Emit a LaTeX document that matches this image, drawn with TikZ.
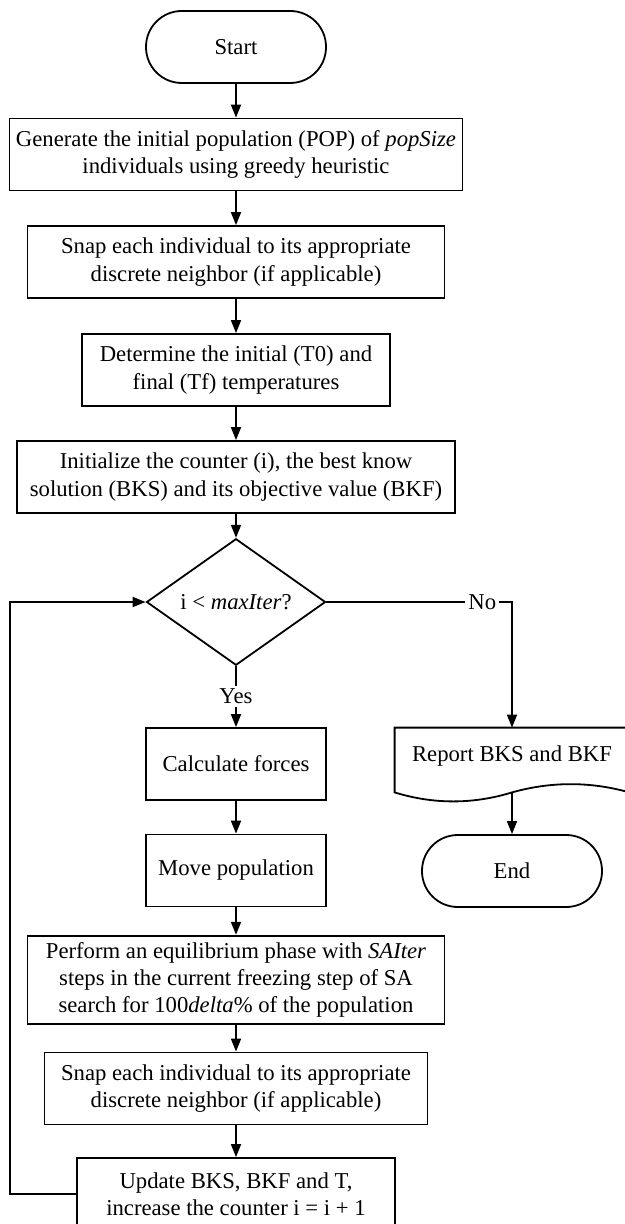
\documentclass[tikz,border=0pt]{standalone}
\usepackage{fontspec}
\setmainfont{Liberation Serif}
\usetikzlibrary{shapes.geometric,arrows.meta}
\begin{document}
\begin{tikzpicture}[x=0.5pt,y=-0.5pt]
         \tikzset{every node/.style={font=\fontsize{11.35}{13.6}\selectfont}}
         \tikzset{flowline/.style={draw,line width=0.9pt,-{Triangle[length=6.5pt,width=5pt]}}}
         \tikzset{terminal/.style={draw,line width=0.9pt,rounded corners=17.9pt,minimum width=90pt,minimum height=36pt}}
         \tikzset{procbox/.style={draw,line width=0.9pt,align=center,inner xsep=2pt,minimum height=36pt}}
         \tikzset{decision/.style={draw,line width=0.9pt,diamond,inner sep=0pt,minimum width=89.5pt,minimum height=53pt}}
         \tikzset{answer/.style={fill=white,inner sep=1.5pt}}
         \useasboundingbox (0,0) rectangle (625,1224);
         \node[terminal] (start) at (236,47) {Start};
         \node[procbox,minimum width=226.5pt] (generate) at (236,154.5) {Generate the initial population (POP) of \textit{popSize}\\individuals using greedy heuristic};
         \node[procbox,minimum width=208.5pt] (snapfirst) at (236,262) {Snap each individual to its appropriate\\discrete neighbor (if applicable)};
         \node[procbox,minimum width=154pt] (temps) at (236,370) {Determine the initial (T0) and\\final (Tf) temperatures};
         \node[procbox,minimum width=219pt] (init) at (236,477) {Initialize the counter (i), the best know\\solution (BKS) and its objective value (BKF)};
         \node[decision] (cond) at (236,602) {i < \textit{maxIter}?};
         \node[procbox,minimum width=90pt] (calc) at (236,764) {Calculate forces};
         \node[procbox,minimum width=90pt] (move) at (236,870.5) {Move population};
         \node[procbox,minimum width=208.5pt,minimum height=42pt] (equil) at (236,980) {Perform an equilibrium phase with \textit{SAIter}\\steps in the current freezing step of SA\\search for 100\textit{delta}\% of the population};
         \node[procbox,minimum width=191.5pt] (snapsecond) at (236,1088.5) {Snap each individual to its appropriate\\discrete neighbor (if applicable)};
         \node[procbox,minimum width=159pt] (update) at (236,1194) {Update BKS, BKF and T,\\increase the counter i = i + 1};
         \node[minimum width=117pt,minimum height=28pt] (report) at (512,756) {Report BKS and BKF};
         \coordinate (repsw) at ([yshift=-4pt]report.south west);
         \coordinate (repse) at ([yshift=-4pt]report.south east);
         \coordinate (repout) at ([yshift=-4pt]report.south);
         \draw[line width=0.9pt] (repse) -- (report.north east) -- (report.north west) -- (repsw)
               .. controls +(39,12) and +(-39,12) .. (repout)
               .. controls +(39,-11) and +(-39,-11) .. (repse);
         \node[terminal] (stop) at (512,871) {End};
         \coordinate (back) at (10,1194);
         \draw[flowline] (start) -- (generate);
         \draw[flowline] (generate) -- (snapfirst);
         \draw[flowline] (snapfirst) -- (temps);
         \draw[flowline] (temps) -- (init);
         \draw[flowline] (init) -- (cond);
         \draw[flowline] (cond.east) -- node[answer,pos=0.84] {No} (cond.east -| report.north) -- (report.north);
         \draw[flowline] (cond.south) -- node[answer] {Yes} (calc.north);
         \draw[flowline] (calc) -- (move);
         \draw[flowline] (move) -- (equil);
         \draw[flowline] (equil) -- (snapsecond);
         \draw[flowline] (snapsecond) -- (update);
         \draw[flowline] (update.west) -- (back) |- (cond.west);
         \draw[flowline] (repout) -- (stop);
      \end{tikzpicture}
\end{document}
